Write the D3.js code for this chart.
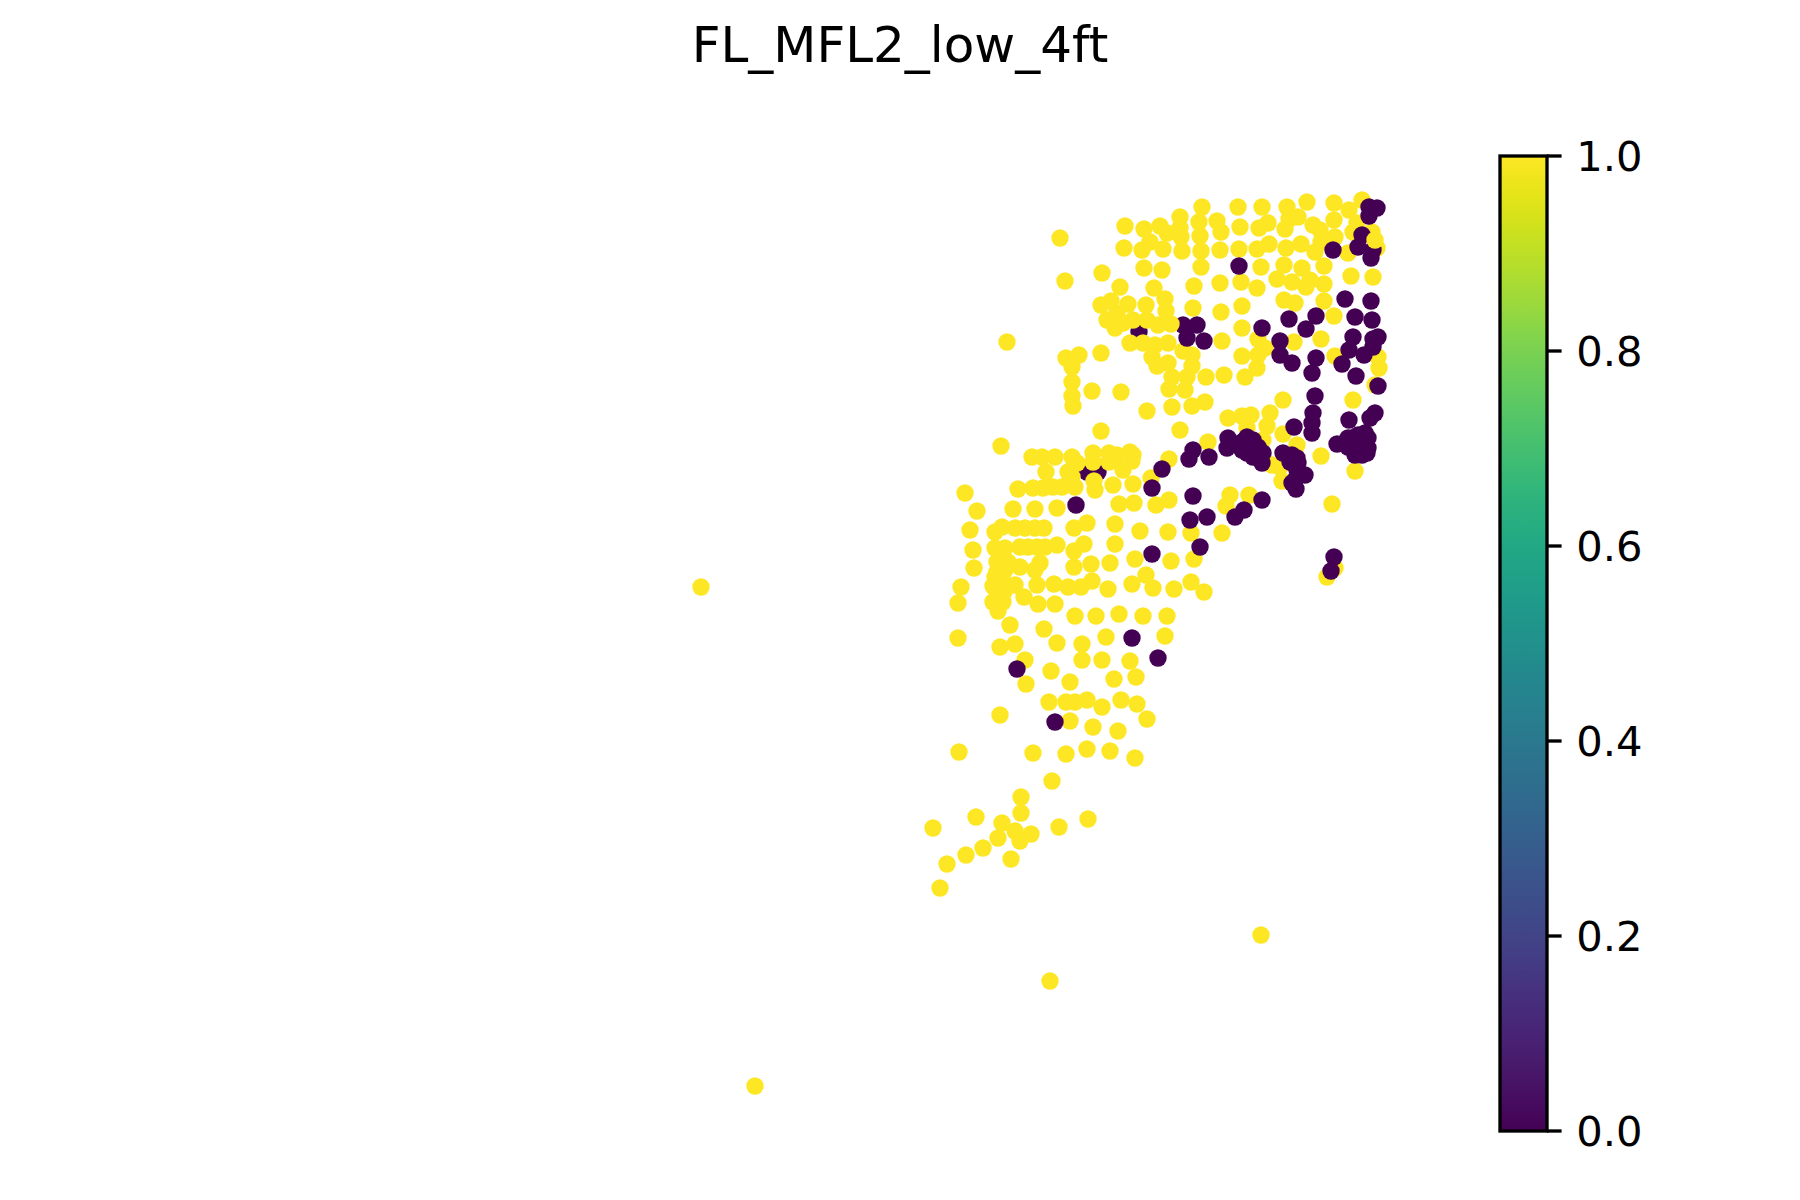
<!DOCTYPE html>
<html><head><meta charset="utf-8">
<style>html,body{margin:0;padding:0;background:#fff}svg{display:block}</style>
<script src="https://cdn.jsdelivr.net/npm/d3@7/dist/d3.min.js"></script></head>
<body><div id="chart"></div>
<script>
const chartTitle = "FL_MFL2_low_4ft";
const colorTicks = [0, 0.2, 0.4, 0.6, 0.8, 1.0];
const colorDomain = [0, 1];
const valueHigh = 1;
const valueLow = 0;
// readings drawn beneath the high-value points
const lowUnder = [[108.7,47.2],[109.8,47.2],[113.9,33.2],[118.3,32.5]];
const highPoints = [
[106.0,23.8],[112.5,22.6],[114.4,22.9],[116.0,22.6],[116.7,23.3],[118.0,21.7],[118.0,22.8],[118.1,23.7],[115.0,24.2],[112.4,24.8],
[114.2,25.0],[116.3,24.9],[118.2,25.1],[119.9,22.2],[120.2,20.7],[120.0,23.6],[120.1,25.1],[121.7,22.1],[122.1,23.2],[122.0,25.0],
[123.8,20.7],[124.0,22.7],[123.9,24.9],[126.2,20.7],[126.8,22.3],[125.9,22.8],[125.7,24.9],[126.9,24.4],[128.7,20.7],[129.8,21.7],
[128.9,21.9],[128.5,22.9],[128.6,24.8],[130.1,24.4],[130.7,20.2],[131.3,22.5],[132.0,23.0],[131.5,25.2],[132.1,24.2],[133.4,20.3],
[133.4,22.0],[133.5,23.7],[134.9,21.0],[136.2,20.0],[135.7,22.3],[135.3,23.2],[137.2,23.2],[134.8,25.3],[137.7,24.8],
[114.4,26.8],[116.2,27.0],[120.1,26.7],[126.1,26.7],[128.4,26.5],[130.2,26.8],[132.4,26.6],[135.1,27.6],[137.3,27.7],[106.5,28.1],
[110.2,27.3],[112.0,28.7],[115.4,28.8],[119.4,28.6],[122.0,28.3],[124.1,28.2],[125.7,28.8],[127.7,27.9],[129.2,28.2],[131.0,28.0],
[130.6,28.7],[132.4,28.4],[128.4,30.0],[129.5,30.3],[132.4,30.1],[110.1,30.5],[111.1,30.1],[112.8,30.4],[114.6,30.5],[116.5,29.9],
[116.6,31.1],[119.3,30.8],[122.1,31.2],[124.2,30.6],[110.7,32.0],[111.7,31.3],[111.5,32.8],[112.3,32.3],[113.3,32.0],[114.7,32.0],
[115.8,32.5],[117.1,32.4],[124.2,32.8],[133.4,31.6],[113.0,34.3],[114.3,34.3],[115.5,34.5],[116.8,34.3],[118.3,35.1],[119.2,35.5],
[122.2,34.1],[125.8,33.9],[126.5,34.8],[125.8,35.5],[129.4,34.2],[132.1,33.9],[133.5,35.6],[110.1,35.3],[106.6,35.8],[107.9,35.5],
[107.2,36.7],[107.2,38.2],[107.2,39.6],[107.3,40.6],[109.2,39.1],[112.1,39.2],[115.2,35.7],[115.7,36.6],[116.8,36.3],[119.2,36.6],
[117.2,37.7],[118.7,37.7],[120.6,37.7],[116.9,38.9],[118.5,39.0],[122.4,37.5],[124.5,37.7],[125.7,36.8],[124.2,35.6],[137.8,35.7],
[137.9,36.8],[137.5,38.5],[135.3,40.0],[128.3,40.0],[120.5,40.2],[119.2,40.6],[117.2,40.7],[114.7,41.1],
[110.1,43.1],[118.0,43.0],[122.8,41.8],[124.2,41.6],[125.1,41.5],[127.0,41.3],[124.7,42.8],[126.7,42.6],[128.3,43.4],[120.8,44.2],
[126.3,44.0],[129.7,44.5],[127.2,46.5],[128.0,46.7],[128.2,48.1],[132.1,45.6],[135.5,47.1],[116.9,45.9],[115.1,47.8],[105.5,45.7],
[107.2,45.7],[109.3,45.3],[109.3,46.2],[110.9,45.3],[111.7,45.5],[110.9,46.2],[113.0,45.2],[113.3,45.5],[112.3,47.0],[113.2,46.1],
[107.7,46.3],[106.8,47.2],[107.2,47.7],[105.3,48.7],[106.2,48.7],[107.5,48.7],[109.4,48.1],[109.5,49.0],[111.3,48.5],[113.3,48.4],
[105.7,50.8],[111.9,50.4],[113.4,50.3],[115.6,50.5],[116.9,50.0],[123.0,49.5],[124.9,49.5],[122.6,50.6],[133.2,50.4],[108.7,52.3],
[107.4,52.8],[111.5,52.4],[114.0,53.1],[116.8,53.2],[119.1,53.3],[122.2,53.3],[105.7,54.5],[107.4,55.1],[108.4,54.4],[111.5,54.4],
[113.5,55.9],[117.1,56.1],[119.4,55.9],[107.4,56.7],[109.1,56.4],[111.0,56.3],[114.6,57.5],[105.4,58.4],[106.8,58.7],[108.1,58.7],
[109.2,58.1],[110.8,58.9],[113.2,58.4],[115.3,58.8],[117.4,58.9],[119.1,58.2],[120.4,59.2],[105.5,60.4],[107.5,61.6],[109.6,61.6],
[111.9,61.4],[114.3,61.6],[116.7,61.6],[110.6,63.7],[116.5,63.6],[132.7,57.7],[133.5,56.8],
[100.1,44.6],[103.2,45.7],[104.2,45.7],[104.6,47.2],[101.8,48.9],[103.3,48.8],[104.3,48.8],[96.5,49.3],[97.7,51.1],[101.3,50.9],
[103.5,50.9],[97.0,53.0],[100.2,52.7],[99.5,53.2],[101.5,52.8],[102.5,52.8],[103.5,52.8],[104.4,52.8],[97.3,55.0],[99.5,54.8],
[100.5,54.8],[102.0,54.7],[102.8,54.7],[103.7,54.7],[104.5,54.7],[99.7,56.2],[100.8,56.2],[104.0,56.3],[102.0,56.7],[103.5,57.0],
[97.4,56.8],[99.7,57.2],[100.5,57.0],[96.1,58.7],[99.3,58.6],[100.3,58.3],[101.5,58.5],[103.7,58.5],[95.8,60.3],[99.3,60.2],
[100.3,60.2],[102.4,59.7],[99.8,61.1],[103.8,60.4],[101.0,62.5],[104.4,62.9],[95.8,63.8],
[100.0,55.5],[100.0,56.7],[99.5,57.7],[100.2,57.7],[99.7,59.3],[100.4,59.2],
[100.0,64.7],[101.5,64.4],[105.7,64.3],[108.2,64.4],[102.5,66.0],[102.6,68.4],[105.1,67.1],[107.0,68.2],[108.2,66.0],[110.2,66.0],
[113.0,66.1],[111.4,67.9],[113.6,67.7],[104.9,70.2],[106.6,70.2],[107.5,70.2],[108.7,70.0],[110.2,70.7],[112.1,70.0],[113.7,70.4],
[100.0,71.5],[107.0,72.1],[109.3,72.7],[111.8,73.1],[114.7,71.9],[95.9,75.2],[103.3,75.3],[106.6,75.4],[108.7,74.9],[111.0,75.1],
[113.5,75.8],[105.2,78.1],[102.1,79.7],[102.1,81.3],[97.6,81.7],[100.2,82.3],[108.8,81.9],[105.9,82.7],[93.3,82.8],[101.5,83.1],
[103.1,83.4],[99.8,83.8],[102.0,84.1],[98.3,84.8],[96.6,85.5],[101.1,85.9],[94.7,86.4],[94.0,88.8],
[70.1,58.7],[75.5,108.6],[105.0,98.1],[126.1,93.5],[100.7,34.2]
];
const lowPoints = [
[123.9,26.6],[133.3,25.0],[136.9,20.7],[137.7,20.8],[136.9,21.6],[136.2,23.5],[135.8,24.7],[137.1,25.8],[137.3,25.0],[134.5,29.9],
[137.1,30.1],[128.9,31.9],[131.6,31.6],[130.6,32.9],[135.5,31.7],[137.2,32.0],[126.2,32.8],[128.0,34.1],[128.0,35.5],[129.2,36.3],
[131.6,35.8],[131.2,37.3],[134.2,36.4],[135.6,37.6],[135.3,33.7],[134.9,35.0],[136.4,35.5],[137.3,34.7],[137.8,33.7],[137.3,33.9],
[119.7,32.5],[118.7,33.8],[120.4,34.1],[137.8,38.6],[131.5,39.6],[137.5,41.3],[137.0,41.8],[134.9,42.0],[129.4,42.7],[131.3,41.3],
[131.2,42.3],[131.2,43.3],[122.8,43.8],[122.7,44.8],[119.3,45.0],[118.9,45.9],[120.9,45.7],[124.2,44.2],[125.0,44.3],[124.2,45.0],
[125.3,45.0],[125.8,44.7],[126.3,45.3],[125.3,45.7],[126.2,46.3],[128.3,45.3],[129.7,45.8],[129.0,46.2],[129.7,47.0],[130.5,47.5],
[129.2,48.3],[129.6,48.9],[129.8,47.5],[116.2,46.9],[115.2,48.8],[133.7,44.4],[135.2,43.8],[136.5,43.3],[136.0,44.3],[136.8,43.8],
[135.5,45.5],[136.7,45.3],[135.8,45.0],[134.8,44.7],[107.6,50.5],[119.3,49.6],[126.2,50.0],[124.4,51.0],[123.5,51.7],[120.7,51.7],
[119.0,52.0],[120.0,54.7],[133.4,55.7],[133.1,57.1],[115.2,55.4],[113.2,63.8],[115.8,65.8],[101.7,66.9],[105.5,72.2],
[136.3,44.5],[135.5,44.2],[136.2,45.5],[135.8,43.5],[136.8,44.8],[134.8,43.8],[124.7,43.7],[125.3,44.0],[124.7,45.3],
[129.2,45.5],[129.5,46.5],[129.8,46.3],[129.5,48.0]
];
// high-value readings drawn last
const highTop = [[137.5,24.0]];

const W = 1800, H = 1200;
const fontFamily = '"DejaVu Sans", sans-serif';
const svg = d3.select("#chart").append("svg").attr("width", W).attr("height", H);
svg.append("rect").attr("width", W).attr("height", H).attr("fill", "#fff");

const x = d3.scaleLinear().domain([0, 180]).range([0, W]);
const y = d3.scaleLinear().domain([0, 120]).range([0, H]);
const color = d3.scaleSequential(d3.interpolateViridis).domain(colorDomain);

svg.append("text").attr("x", 900).attr("y", 62).attr("text-anchor", "middle")
  .attr("font-family", fontFamily).attr("font-size", 50).attr("fill", "#000").text(chartTitle);

const layers = [[lowUnder, valueLow], [highPoints, valueHigh], [lowPoints, valueLow], [highTop, valueHigh]];
layers.forEach(([pts, v]) => {
  svg.append("g").selectAll("circle").data(pts).join("circle")
    .attr("cx", d => x(d[0])).attr("cy", d => y(d[1])).attr("r", 8.7).attr("fill", color(v));
});

// colour bar
const barLeft = 1500, barRight = 1547, barTop = 156, barBottom = 1131;
const cScale = d3.scaleLinear().domain(colorDomain).range([barBottom, barTop]);
const defs = svg.append("defs");
const grad = defs.append("linearGradient").attr("id", "vir").attr("x1", 0).attr("y1", 1).attr("x2", 0).attr("y2", 0);
d3.range(0, 1.0001, 0.02).forEach(t => grad.append("stop").attr("offset", t).attr("stop-color", d3.interpolateViridis(t)));
svg.append("rect").attr("x", barLeft).attr("y", barTop).attr("width", barRight - barLeft).attr("height", barBottom - barTop)
  .attr("fill", "url(#vir)").attr("stroke", "#000").attr("stroke-width", 3.33);
const axis = d3.axisRight(cScale).tickValues(colorTicks).tickFormat(d3.format(".1f")).tickSize(14.6).tickPadding(14.6).offset(0);
const gAxis = svg.append("g").attr("transform", `translate(${barRight},0)`).call(axis);
gAxis.select(".domain").remove();
gAxis.selectAll("line").attr("stroke", "#000").attr("stroke-width", 3.33);
gAxis.selectAll("text").attr("font-family", fontFamily).attr("font-size", 41.67).attr("fill", "#000").attr("dy", "0.355em");
</script></body></html>
